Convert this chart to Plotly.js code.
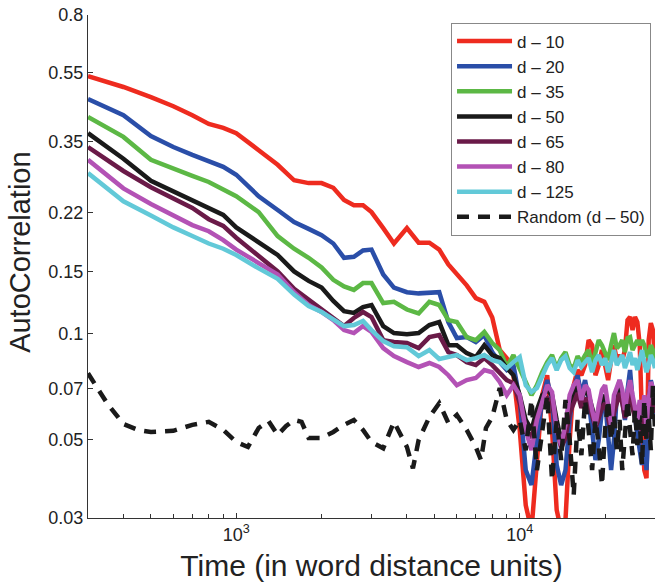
<!DOCTYPE html>
<html>
<head>
<meta charset="utf-8">
<script src="https://cdn.plot.ly/plotly-3.0.1.min.js"></script>
<style>html,body{margin:0;padding:0;background:#fff;}#chart{width:660px;height:585px;}</style>
</head>
<body>
<div id="chart"></div>
<script>
// Time (word distance units) sample points shared by d-series
const timeX = [300,400,500,600,700,800,900,1000,1200,1400,1600,1800,2000,2200,2400,2600,2800,3000,3300,3600,4000,4400,4800,5200,5600,6000,6500,7000,7500,8000,8500,9000,
  9500,10000,10500,11000,11500,12000,12500,13000,13500,14000,14500,15000,15500,16000,16500,17000,17500,18000,18500,19000,19500,20000,20500,21000,21500,22000,22500,23000,23500,24000,24500,25000,25500,26000,26500,27000,27500,28000,28500,29000,29500,30000];

const d10 = [0.537,0.500,0.468,0.441,0.416,0.393,0.383,0.370,0.331,0.301,0.272,0.267,0.267,0.259,0.239,0.231,0.231,0.221,0.199,0.180,0.199,0.181,0.181,0.173,0.157,0.147,0.137,0.126,0.123,0.111,0.0898,0.0852,
  0.0762,0.0533,0.0326,0.0277,0.0438,0.0669,0.0762,0.0533,0.0316,0.0277,0.0296,0.0499,0.0714,0.0788,0.0762,0.0814,0.0958,0.0927,0.0762,0.0814,0.0898,0.0814,0.0738,0.0841,0.0927,0.0841,0.0869,0.0841,0.0898,0.1092,0.1114,0.1023,0.1114,0.1078,0.0927,0.0569,0.0410,0.0389,0.0958,0.1071,0.1023,0.0841];

const d20 = [0.462,0.416,0.363,0.338,0.321,0.307,0.297,0.282,0.245,0.224,0.207,0.198,0.190,0.180,0.164,0.165,0.172,0.173,0.147,0.135,0.131,0.130,0.131,0.131,0.1078,0.0971,0.0977,0.0946,0.0990,0.0886,0.0830,0.0788,
  0.0814,0.0648,0.0410,0.0372,0.0499,0.0648,0.0738,0.0648,0.0424,0.0372,0.0410,0.0569,0.0692,0.0762,0.0669,0.0738,0.0648,0.0533,0.0438,0.0499,0.0607,0.0648,0.0533,0.0410,0.0499,0.0669,0.0738,0.0648,0.0569,0.0692,0.0788,0.0648,0.0569,0.0499,0.0467,0.0424,0.0499,0.0410,0.0607,0.0738,0.0692,0.0569];

const d35 = [0.411,0.361,0.311,0.295,0.280,0.269,0.255,0.245,0.221,0.189,0.174,0.164,0.154,0.142,0.136,0.133,0.139,0.139,0.122,0.123,0.117,0.114,0.123,0.1205,0.1092,0.1078,0.0977,0.0958,0.1010,0.0940,0.0898,0.0804,
  0.0869,0.0798,0.0729,0.0669,0.0714,0.0777,0.0830,0.0869,0.0798,0.0852,0.0886,0.0814,0.0798,0.0863,0.0830,0.0869,0.0898,0.0814,0.0886,0.0958,0.0927,0.0886,0.0841,0.0927,0.1003,0.0909,0.0927,0.0958,0.0886,0.0971,0.0977,0.0898,0.0927,0.0958,0.0927,0.0958,0.0927,0.0869,0.0858,0.0927,0.0898,0.0841];

const d50 = [0.370,0.313,0.271,0.253,0.240,0.228,0.217,0.200,0.181,0.167,0.150,0.141,0.135,0.1237,0.1158,0.1144,0.1189,0.1205,0.1050,0.1003,0.0996,0.1003,0.1057,0.1078,0.0927,0.0927,0.0880,0.0858,0.0927,0.0869,0.0852,0.0798,
  0.0762,0.0669,0.0569,0.0533,0.0607,0.0669,0.0692,0.0669,0.0569,0.0499,0.0533,0.0627,0.0669,0.0714,0.0648,0.0692,0.0669,0.0607,0.0569,0.0607,0.0648,0.0669,0.0607,0.0551,0.0627,0.0669,0.0714,0.0669,0.0607,0.0669,0.0714,0.0648,0.0607,0.0569,0.0588,0.0551,0.0607,0.0533,0.0648,0.0714,0.0669,0.0627];

const d65 = [0.338,0.289,0.260,0.242,0.227,0.211,0.202,0.187,0.166,0.150,0.134,0.1245,0.1166,0.1099,0.1050,0.1107,0.1151,0.1114,0.0958,0.0946,0.0940,0.0909,0.0977,0.0990,0.0886,0.0869,0.0830,0.0814,0.0852,0.0814,0.0777,0.0738,
  0.0723,0.0635,0.0540,0.0506,0.0576,0.0635,0.0656,0.0635,0.0540,0.0473,0.0506,0.0595,0.0635,0.0678,0.0615,0.0656,0.0635,0.0576,0.0540,0.0576,0.0615,0.0635,0.0576,0.0523,0.0595,0.0635,0.0678,0.0635,0.0576,0.0635,0.0678,0.0615,0.0576,0.0540,0.0558,0.0523,0.0576,0.0506,0.0615,0.0678,0.0635,0.0595];

const d80 = [0.311,0.258,0.233,0.217,0.203,0.195,0.184,0.173,0.159,0.147,0.131,0.1205,0.1151,0.1092,0.1023,0.1003,0.1050,0.1010,0.0909,0.0863,0.0830,0.0804,0.0825,0.0804,0.0762,0.0714,0.0738,0.0748,0.0788,0.0777,0.0729,0.0669,
  0.0714,0.0669,0.0533,0.0467,0.0569,0.0648,0.0714,0.0683,0.0533,0.0483,0.0551,0.0669,0.0714,0.0738,0.0648,0.0714,0.0692,0.0607,0.0551,0.0627,0.0692,0.0714,0.0627,0.0551,0.0669,0.0701,0.0738,0.0692,0.0607,0.0683,0.0738,0.0669,0.0607,0.0569,0.0648,0.0588,0.0669,0.0533,0.0648,0.0729,0.0701,0.0648];

const d125 = [0.285,0.237,0.216,0.200,0.189,0.180,0.174,0.167,0.153,0.143,0.129,0.1197,0.1151,0.1099,0.1050,0.1057,0.1085,0.1023,0.0952,0.0921,0.0915,0.0863,0.0898,0.0847,0.0858,0.0869,0.0841,0.0852,0.0869,0.0841,0.0830,0.0798,
  0.0830,0.0858,0.0714,0.0683,0.0701,0.0762,0.0814,0.0852,0.0788,0.0841,0.0863,0.0798,0.0777,0.0841,0.0804,0.0830,0.0852,0.0777,0.0841,0.0869,0.0814,0.0852,0.0777,0.0830,0.0898,0.0814,0.0841,0.0869,0.0798,0.0852,0.0886,0.0814,0.0852,0.0788,0.0841,0.0898,0.0830,0.0777,0.0814,0.0869,0.0841,0.0798];

// Random baseline (d - 50)
const randX = [300,350,400,450,500,600,700,800,900,1000,1100,1200,1300,1400,1500,1600,1700,1800,2000,2200,2400,2600,2800,3000,3300,3600,4000,4200,4400,4800,5200,5600,6000,6500,7000,7300,7600,8000,8500,9000,9500,10000,
  10500,11000,11500,12000,12500,13000,13500,14000,14500,15000,15500,16000,16500,17000,17500,18000,18500,19000,19500,20000,20500,21000,21500,22000,22500,23000,23500,24000,24500,25000,25500,26000,26500,27000,27500,28000,28500,29000,29500,30000];
const randY = [0.0772,0.0635,0.0554,0.0533,0.0526,0.0530,0.0551,0.0562,0.0533,0.0493,0.0477,0.0540,0.0565,0.0516,0.0547,0.0569,0.0562,0.0506,0.0506,0.0526,0.0551,0.0569,0.0533,0.0493,0.0473,0.0562,0.0477,0.0415,0.0499,0.0580,0.0635,0.0558,0.0588,0.0533,0.0477,0.0438,0.0540,0.0580,0.0701,0.0569,0.0533,0.0569,
  0.0467,0.0648,0.0410,0.0533,0.0669,0.0384,0.0569,0.0438,0.0648,0.0499,0.0348,0.0569,0.0452,0.0648,0.0533,0.0410,0.0569,0.0483,0.0372,0.0533,0.0648,0.0499,0.0588,0.0467,0.0569,0.0410,0.0499,0.0648,0.0533,0.0452,0.0607,0.0483,0.0569,0.0424,0.0648,0.0499,0.0588,0.0467,0.0714,0.0533];

const seriesNames = ['d \u2013 10','d \u2013 20','d \u2013 35','d \u2013 50','d \u2013 65','d \u2013 80','d \u2013 125'];
const seriesData = [d10,d20,d35,d50,d65,d80,d125];
const seriesColors = ['#ee2b1f','#2a4ea8','#5cb845','#1a1a1a','#6a1a48','#b352b5','#62c9d8'];

const yTicks = [0.03,0.05,0.07,0.1,0.15,0.22,0.35,0.55,0.8];
const yTickText = ['0.03','0.05','0.07','0.1','0.15','0.22','0.35','0.55','0.8'];
const xTicks = [1000,10000];
const xTickText = ['10<sup>3</sup>','10<sup>4</sup>'];
const xMinor = [400,500,600,700,800,900,2000,3000,4000,5000,6000,7000,8000,9000,20000,30000];

const traces = seriesData.map((ys,i)=>({
  x: timeX, y: ys, type:'scatter', mode:'lines', name: seriesNames[i],
  line:{color: seriesColors[i], width:4.5}
}));
traces.push({x: randX, y: randY, type:'scatter', mode:'lines', name:'Random (d \u2013 50)',
  line:{color:'#1a1a1a', width:4.5, dash:'12px,9px'}});

const font = 'Liberation Sans, Arial, Helvetica, sans-serif';
const layout = {
  width:660, height:585,
  margin:{l:88, r:5, t:15, b:67},
  paper_bgcolor:'#fff', plot_bgcolor:'#fff',
  font:{family:font, color:'#222', size:18},
  showlegend:true,
  legend:{x:0.993, y:0.985, xanchor:'right', yanchor:'top', bgcolor:'#fff',
    bordercolor:'#888', borderwidth:1, font:{size:17, family:font, color:'#222'},
    itemwidth:55, tracegroupgap:0},
  xaxis:{type:'log', range:[Math.log10(300), Math.log10(30000)],
    tickmode:'array', tickvals:xTicks, ticktext:xTickText,
    ticks:'inside', ticklen:5, tickcolor:'#333', showline:true, linecolor:'#333', linewidth:1,
    showgrid:false, zeroline:false, tickfont:{size:18, family:font, color:'#222'},
    minor:{tickmode:'array', tickvals:xMinor, ticks:'inside', ticklen:4, tickcolor:'#333', showgrid:false},
    title:{text:'Time (in word distance units)', font:{size:30, family:font, color:'#222'}, standoff:11}},
  yaxis:{type:'log', range:[Math.log10(0.03), Math.log10(0.8)],
    tickmode:'array', tickvals:yTicks, ticktext:yTickText,
    ticks:'inside', ticklen:5, tickcolor:'#333', showline:true, linecolor:'#333', linewidth:1,
    showgrid:false, zeroline:false, tickfont:{size:18, family:font, color:'#222'}},
  annotations:[{text:'AutoCorrelation', xref:'paper', yref:'paper', x:-0.12, y:0.529,
    xanchor:'center', yanchor:'middle', textangle:-90, showarrow:false,
    font:{size:29, family:font, color:'#222'}}]
};
Plotly.newPlot('chart', traces, layout, {displayModeBar:false, staticPlot:true});
</script>
</body>
</html>
